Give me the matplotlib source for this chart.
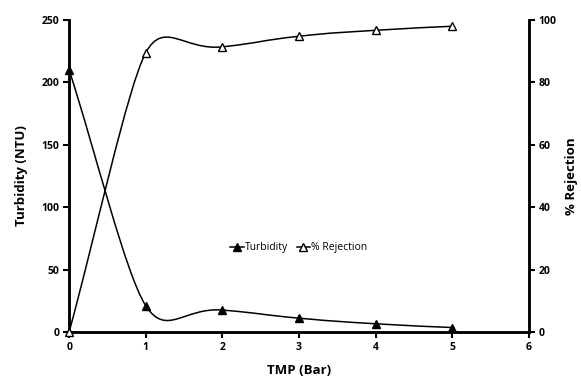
"""Turbidity and % rejection against transmembrane pressure."""

import matplotlib
matplotlib.use("Agg")
import matplotlib.pyplot as plt
import numpy as np
from matplotlib.path import Path
from matplotlib.patches import PathPatch

plt.rcParams["font.family"] = ["Open Sans", "DejaVu Sans"]

tmp_bar = [0, 1, 2, 3, 4, 5]
turbidity_ntu = [210, 21, 17.5, 11, 6.5, 3.5]
rejection_pct = [0, 89.5, 91.4, 94.8, 96.7, 98.0]

AX_RECT = [0.119, 0.122, 0.791, 0.825]
FIG_W, FIG_H = 581, 378


def smooth_path(x, y, xspan, yspan, k=0.5):
    """Bezier path through the points, like a spreadsheet 'smoothed line'.

    The tangent at each point follows its neighbours' chord; arm length is
    tied to the shorter adjacent segment (screen-like units) so long steep
    segments stay almost straight.
    """
    sx = AX_RECT[2] * FIG_W / xspan
    sy = AX_RECT[3] * FIG_H / yspan
    pts = np.column_stack([np.asarray(x) * sx, np.asarray(y) * sy]).astype(float)
    n = len(pts)
    segs = [np.hypot(*(pts[i + 1] - pts[i])) for i in range(n - 1)]

    tangents = []
    arms = []
    for i in range(n):
        if i == 0:
            d = pts[1] - pts[0]
            arm = segs[0]
        elif i == n - 1:
            d = pts[-1] - pts[-2]
            arm = segs[-1]
        else:
            d = pts[i + 1] - pts[i - 1]
            arm = min(segs[i - 1], segs[i])
        tangents.append(d / np.hypot(*d))
        arms.append(arm * k)

    verts = [pts[0]]
    codes = [Path.MOVETO]
    for i in range(n - 1):
        seg = segs[i]
        a1 = min(arms[i], seg / 3) if i == 0 else arms[i]
        a2 = min(arms[i + 1], seg / 3) if i + 1 == n - 1 else arms[i + 1]
        c1 = pts[i] + tangents[i] * a1
        c2 = pts[i + 1] - tangents[i + 1] * a2
        verts += [c1, c2, pts[i + 1]]
        codes += [Path.CURVE4] * 3
    verts = np.array(verts) / [sx, sy]
    return Path(verts, codes)


fig = plt.figure(figsize=(5.81, 3.78), dpi=100)
ax = fig.add_axes(AX_RECT)
ax2 = ax.twinx()

ax.add_patch(PathPatch(smooth_path(tmp_bar, turbidity_ntu, 6, 250),
                       fill=False, edgecolor="black", lw=1.1))
ax2.add_patch(PathPatch(smooth_path(tmp_bar, rejection_pct, 6, 100),
                        fill=False, edgecolor="black", lw=1.1))

ax.plot(tmp_bar, turbidity_ntu, ls="none", marker="^", ms=6.2, color="black",
        clip_on=False, zorder=5)
ax2.plot(tmp_bar, rejection_pct, ls="none", marker="^", ms=6.2,
         markerfacecolor="white", markeredgecolor="black", mew=1.0,
         clip_on=False, zorder=5)

# proxy handles for the legend
h1, = ax.plot([], [], color="black", lw=1.1, marker="^", ms=5.5)
h2, = ax.plot([], [], color="black", lw=1.1, marker="^", ms=5.5,
              markerfacecolor="white", markeredgecolor="black")
ax.legend([h1, h2], ["Turbidity", "% Rejection"], loc="center",
          bbox_to_anchor=(0.5, 0.27), ncol=2, frameon=False,
          fontsize=7.5, handlelength=1.3, handletextpad=0.1,
          columnspacing=0.8)

ax.set_xlim(0, 6)
ax.set_ylim(0, 250)
ax2.set_ylim(0, 100)
ax.set_xticks(range(7))
ax.set_yticks(range(0, 251, 50))
ax2.set_yticks(range(0, 101, 20))

for a in (ax, ax2):
    a.spines["top"].set_visible(False)
    for s in a.spines.values():
        s.set_linewidth(1.8)
    a.tick_params(direction="out", length=4, width=1.5, labelsize=7.5,
                  pad=3)
    for lbl in a.get_xticklabels() + a.get_yticklabels():
        lbl.set_fontweight("bold")

ax.set_xlabel("TMP (Bar)", fontsize=9.5, fontweight="bold", labelpad=8)
ax.set_ylabel("Turbidity (NTU)", fontsize=9.5, fontweight="bold", labelpad=10)
ax2.set_ylabel("% Rejection", fontsize=9.5, fontweight="bold", labelpad=6,
               rotation=90)

fig.savefig("out.png", dpi=100)
